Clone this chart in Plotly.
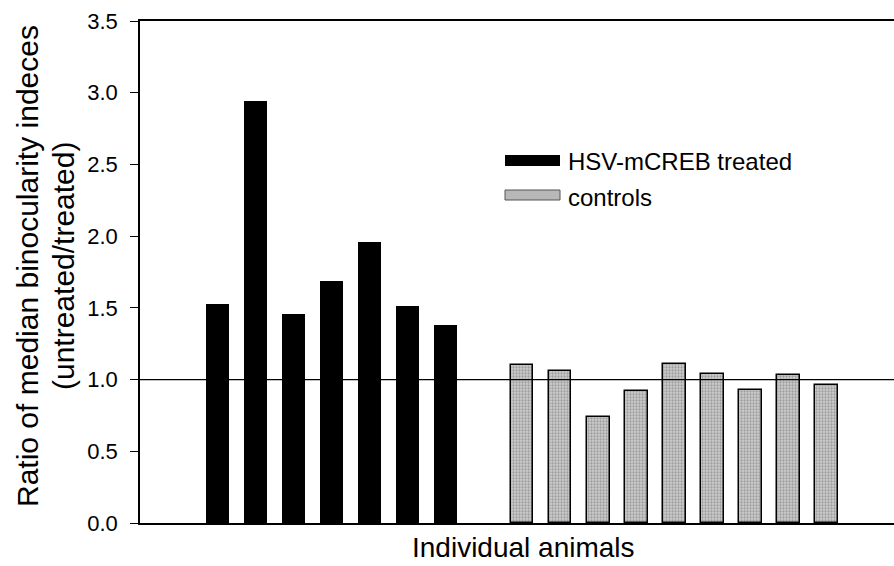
import plotly.graph_objects as go

# ---- data ----
treated_values = [1.53, 2.94, 1.46, 1.69, 1.96, 1.51, 1.38]
control_values = [1.10, 1.06, 0.74, 0.92, 1.11, 1.04, 0.93, 1.03, 0.96]
treated_label = "HSV-mCREB treated"
control_label = "controls"
y_ticks = [0.0, 0.5, 1.0, 1.5, 2.0, 2.5, 3.0, 3.5]
x_title = "Individual animals"
y_title_1 = "Ratio of median binocularity indeces"
y_title_2 = "(untreated/treated)"

# positions: treated animals, one empty slot, then controls
treated_x = list(range(len(treated_values)))
control_x = [len(treated_values) + 1 + i for i in range(len(control_values))]

W, H = 894, 566
L, R, T, B = 140, 0, 21, 43
PW, PH = W - L - R, H - T - B
FONT = "Liberation Sans, Arial, Helvetica, sans-serif"

def px(xp):
    return (xp - L) / PW

def py(yp):
    return (H - B - yp) / PH

fig = go.Figure()
fig.add_trace(go.Bar(
    x=treated_x, y=treated_values, width=0.6, name=treated_label,
    marker=dict(color="black", line=dict(width=0)), showlegend=False,
))
fig.add_trace(go.Bar(
    x=control_x, y=control_values, width=0.6, name=control_label,
    marker=dict(color="#bcbcbc", line=dict(color="black", width=1.5),
                pattern=dict(shape=".", fgcolor="#6e6e6e", bgcolor="#cdcdcd",
                             size=3, solidity=0.45)),
    showlegend=False,
))

shapes = [
    # reference line at ratio 1.0
    dict(type="line", xref="paper", yref="y", x0=0, x1=1, y0=1, y1=1,
         line=dict(color="black", width=1.2), layer="above"),
    # legend swatches
    dict(type="rect", xref="paper", yref="paper", x0=px(505), x1=px(560),
         y0=py(166), y1=py(155), fillcolor="black", line=dict(width=0)),
    dict(type="rect", xref="paper", yref="paper", x0=px(505), x1=px(560),
         y0=py(200), y1=py(190), fillcolor="#b8b8b8",
         line=dict(color="#555", width=1)),
]

annotations = [
    dict(text=treated_label, xref="paper", yref="paper", x=px(566), y=py(161),
         xanchor="left", yanchor="middle", showarrow=False,
         font=dict(family=FONT, size=24, color="black")),
    dict(text=control_label, xref="paper", yref="paper", x=px(566), y=py(197),
         xanchor="left", yanchor="middle", showarrow=False,
         font=dict(family=FONT, size=24, color="black")),
    dict(text=x_title, xref="paper", yref="paper", x=px(523), y=py(565),
         xanchor="center", yanchor="bottom", showarrow=False,
         font=dict(family=FONT, size=28, color="black")),
    dict(text=y_title_1, xref="paper", yref="paper", x=px(27), y=py(266),
         xanchor="center", yanchor="middle", showarrow=False, textangle=-90,
         font=dict(family=FONT, size=30, color="black")),
    dict(text=y_title_2, xref="paper", yref="paper", x=px(63), y=py(266),
         xanchor="center", yanchor="middle", showarrow=False, textangle=-90,
         font=dict(family=FONT, size=30, color="black")),
]

fig.update_layout(
    width=W, height=H,
    margin=dict(l=L, r=R, t=T, b=B, pad=0),
    paper_bgcolor="white", plot_bgcolor="white",
    font=dict(family=FONT, color="black"),
    showlegend=False,
    shapes=shapes, annotations=annotations,
    bargap=0,
)
fig.update_xaxes(
    range=[-2.03, 17.77], showgrid=False, zeroline=False,
    showline=True, linecolor="black", linewidth=1.5, mirror=True,
    ticks="", showticklabels=False,
)
fig.update_yaxes(
    range=[0, 3.5], tickvals=y_ticks, ticktext=[f"{v:.1f}" for v in y_ticks],
    showgrid=False, zeroline=False,
    showline=True, linecolor="black", linewidth=1.5, mirror=False,
    ticks="outside", ticklen=8, tickwidth=1.2, tickcolor="black",
    ticklabelstandoff=8,
    tickfont=dict(family=FONT, size=22, color="black"),
)

fig.write_html("out.html")
